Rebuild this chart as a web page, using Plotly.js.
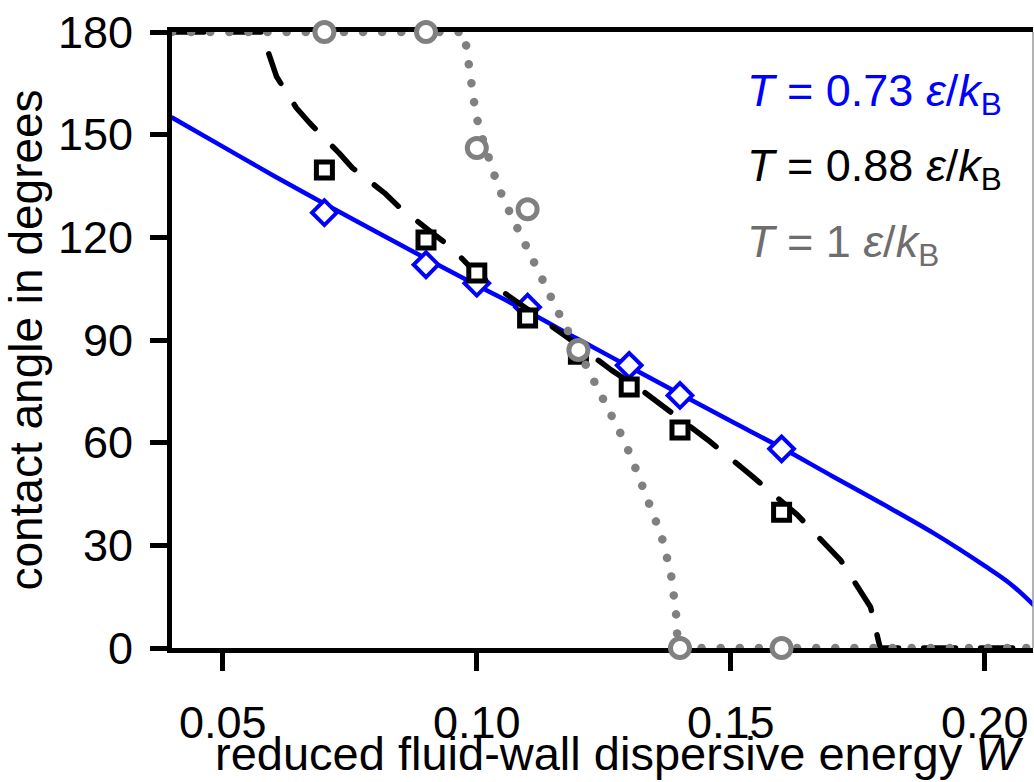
<!DOCTYPE html>
<html>
<head>
<meta charset="utf-8">
<script src="https://cdn.plot.ly/plotly-3.0.1.min.js"></script>
<style>html,body{margin:0;padding:0;background:#fff;} #chart{width:1034px;height:782px;}</style>
</head>
<body>
<div id="chart"></div>
<script>
// ---- data ----
// T = 0.73 (blue): simulation points and fitted curve
const blueX = [0.07, 0.09, 0.10, 0.11, 0.13, 0.14, 0.16];
const blueY = [127.2, 112.0, 106.6, 99.6, 82.6, 73.8, 58.2];
const blueFitX = [0.04, 0.05, 0.06, 0.07, 0.08, 0.09, 0.10, 0.11, 0.12, 0.13, 0.14, 0.15, 0.16, 0.17, 0.18, 0.19, 0.20, 0.205, 0.21];
const blueFitY = [155.0, 146.5, 138.0, 129.8, 121.8, 113.8, 106.0, 98.3, 90.2, 82.2, 74.2, 66.3, 58.5, 50.2, 42.0, 33.5, 24.0, 18.8, 12.0];

// T = 0.88 (black): simulation points and fitted curve
const blackX = [0.07, 0.09, 0.10, 0.11, 0.12, 0.13, 0.14, 0.16];
const blackY = [139.7, 119.2, 109.6, 96.4, 85.8, 76.3, 63.7, 39.7];
const blackFitX = [0.040, 0.058, 0.0586, 0.0596, 0.0606, 0.0645, 0.0671, 0.0729, 0.0755, 0.0818, 0.0847, 0.0912, 0.0951, 0.0998, 0.1076, 0.1122, 0.1180, 0.1265, 0.1324, 0.1396, 0.1455, 0.1539, 0.1631, 0.1716, 0.1775, 0.1794, 0.2100];
const blackFitY = [180, 180, 175.6, 171.2, 166.9, 157.8, 153.4, 144.6, 140.3, 133.0, 128.9, 121.3, 116.9, 109.6, 101.7, 96.7, 90.6, 81.2, 75.4, 67.5, 60.8, 50.6, 38.9, 25.7, 12.0, 0, 0];

// T = 1 (gray): simulation points and fitted curve
const grayX = [0.07, 0.09, 0.10, 0.11, 0.12, 0.14, 0.16];
const grayY = [180, 180, 146.1, 128.2, 87.1, 0, 0];
const grayFitX = [0.040, 0.0975, 0.0980, 0.0984, 0.0988, 0.0996, 0.1004, 0.1027, 0.1041, 0.1057, 0.1075, 0.1092, 0.1110, 0.1129, 0.1149, 0.1169, 0.1200, 0.1229, 0.1249, 0.1269, 0.1287, 0.1304, 0.1335, 0.1363, 0.1382, 0.1392, 0.1396, 0.2100];
const grayFitY = [180, 180, 175.0, 169.5, 163.6, 158.1, 152.2, 141.1, 135.3, 129.7, 124.2, 118.4, 112.5, 106.9, 101.4, 95.5, 87.0, 78.6, 72.8, 67.5, 61.5, 55.8, 44.1, 33.0, 21.9, 10.5, 0, 0];

const xTickVals = [0.05, 0.10, 0.15, 0.20];
const xTickText = ['0.05', '0.10', '0.15', '0.20'];
const yTickVals = [0, 30, 60, 90, 120, 150, 180];

const legendLabels = [
  '<i>T</i> = 0.73 <i>ε</i>/<i>k</i><sub>B</sub>',
  '<i>T</i> = 0.88 <i>ε</i>/<i>k</i><sub>B</sub>',
  '<i>T</i> = 1 <i>ε</i>/<i>k</i><sub>B</sub>'
];
const legendY = [162.0, 140.0, 117.8];
const legendColors = ['#0000ff', '#000000', '#6e6e6e'];

const FONT = 'Liberation Sans, Arial, Helvetica, sans-serif';

const traces = [
  {x: blueFitX, y: blueFitY, mode: 'lines', line: {color: '#0000ff', width: 4.5, shape: 'spline', smoothing: 1}, cliponaxis: false, hoverinfo: 'skip'},
  {x: blueX, y: blueY, mode: 'markers', marker: {symbol: 'diamond', size: 19, color: '#ffffff', line: {color: '#0000ff', width: 4}}, cliponaxis: false},
  {x: blackFitX, y: blackFitY, mode: 'lines', line: {color: '#000000', width: 5.5, dash: '32px,25px'}, cliponaxis: false, hoverinfo: 'skip'},
  {x: blackX, y: blackY, mode: 'markers', marker: {symbol: 'square', size: 16, color: '#ffffff', line: {color: '#000000', width: 5}}, cliponaxis: false},
  {x: grayFitX, y: grayFitY, mode: 'lines', line: {color: '#808080', width: 8.5, dash: '0.1px,19px'}, cliponaxis: false, hoverinfo: 'skip'},
  {x: grayX, y: grayY, mode: 'markers', marker: {symbol: 'circle', size: 19, color: '#ffffff', line: {color: '#808080', width: 5}}, cliponaxis: false}
];

const annotations = legendLabels.map((t, i) => ({
  text: t, xref: 'paper', yref: 'y', x: 0.665, y: legendY[i],
  xanchor: 'left', yanchor: 'middle', showarrow: false,
  font: {family: FONT, size: 45, color: legendColors[i]}
}));
annotations.push({
  text: 'reduced fluid-wall dispersive energy <i>W</i>',
  xref: 'paper', yref: 'paper', x: 0.52, y: -0.171, xanchor: 'center', yanchor: 'middle',
  showarrow: false, font: {family: FONT, size: 47, color: '#000'}
});

const layout = {
  width: 1034, height: 782,
  margin: {l: 172, r: 1, t: 32, b: 134, pad: 0},
  paper_bgcolor: '#ffffff', plot_bgcolor: '#ffffff',
  showlegend: false,
  font: {family: FONT, size: 45, color: '#000'},
  xaxis: {
    range: [0.04, 0.20949], tickvals: xTickVals, ticktext: xTickText,
    showgrid: false, zeroline: false, showline: true, linecolor: '#000', linewidth: 5,
    mirror: true, ticks: 'outside', ticklen: 18, tickwidth: 5, tickcolor: '#000',
    ticklabelstandoff: 13, layer: 'below traces',
    tickfont: {family: FONT, size: 45, color: '#000'}
  },
  yaxis: {
    range: [0, 180], tickvals: yTickVals,
    showgrid: false, zeroline: false, showline: true, linecolor: '#000', linewidth: 5,
    ticks: 'outside', ticklen: 17, tickwidth: 5, tickcolor: '#000',
    ticklabelstandoff: 8, layer: 'below traces',
    tickfont: {family: FONT, size: 45, color: '#000'},
    title: {text: 'contact angle in degrees', standoff: 14, font: {family: FONT, size: 46, color: '#000'}}
  },
  shapes: [
    {type: 'line', xref: 'paper', yref: 'paper', x0: 1, x1: 1, y0: 0, y1: 1, line: {color: '#9a9a9a', width: 1.5}}
  ],
  annotations: annotations
};

Plotly.newPlot('chart', traces, layout, {staticPlot: true, displayModeBar: false}).then(() => {
  document.querySelectorAll('.scatterlayer .js-line').forEach(p => {
    p.style.strokeLinecap = 'round';
    p.style.strokeLinejoin = 'round';
  });
});
</script>
</body>
</html>
